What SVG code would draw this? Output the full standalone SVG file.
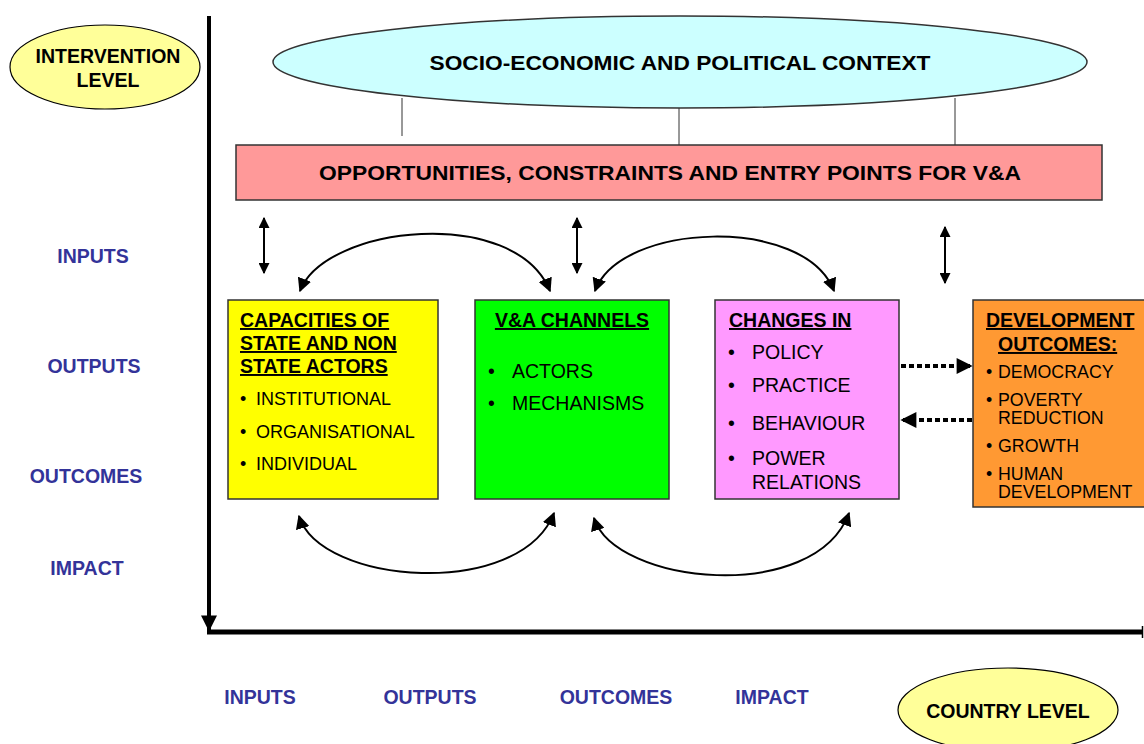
<svg xmlns="http://www.w3.org/2000/svg" width="1144" height="744" viewBox="0 0 1144 744">
<style>
text{font-family:"Liberation Sans",Arial,sans-serif;fill:#000}
.b{font-weight:bold}
.u{text-decoration:underline}
.lab{font-weight:bold;fill:#333399;font-size:19.5px;text-anchor:middle}
.box{stroke:#333;stroke-width:1.5}
.h{font-size:19.5px;font-weight:bold;text-decoration:underline}
.t{font-size:19.5px}
.y{font-size:18px}
.o{font-size:17.8px}
.c{fill:none;stroke:#000;stroke-width:2}
</style>
<defs>
<marker id="ah2" viewBox="0 0 10 10" refX="9" refY="5" markerWidth="5.5" markerHeight="5.5" orient="auto-start-reverse" markerUnits="strokeWidth">
<path d="M0,0 L10,5 L0,10 z" fill="#000"/>
</marker>
<marker id="ah4" viewBox="0 0 10 10" refX="9" refY="5" markerWidth="7" markerHeight="7" orient="auto-start-reverse" markerUnits="strokeWidth">
<path d="M0,0 L10,5 L0,10 z" fill="#000"/>
</marker>
<marker id="ah3" viewBox="0 0 10 10" refX="9" refY="5" markerWidth="5" markerHeight="4" orient="auto-start-reverse" markerUnits="strokeWidth">
<path d="M0,0 L10,5 L0,10 z" fill="#000"/>
</marker>
</defs>

<g id="axes">
<line x1="209" y1="16" x2="209" y2="630" stroke="#000" stroke-width="4" marker-end="url(#ah3)"/>
<line x1="207" y1="632" x2="1142" y2="632" stroke="#000" stroke-width="5"/>
<line x1="1142.5" y1="626" x2="1142.5" y2="638" stroke="#000" stroke-width="1.5"/>
</g>

<g id="intervention-level">
<ellipse cx="105" cy="67" rx="95" ry="42" fill="#ffff99" stroke="#000" stroke-width="1.2"/>
<text x="108" y="63" class="b" font-size="19.5" text-anchor="middle">INTERVENTION</text>
<text x="108" y="87" class="b" font-size="19.5" text-anchor="middle">LEVEL</text>
</g>

<g id="context">
<ellipse cx="680" cy="62" rx="407" ry="46" fill="#ccffff" stroke="#333" stroke-width="1.5"/>
<text x="680" y="70" class="b" font-size="21" text-anchor="middle" textLength="501" lengthAdjust="spacingAndGlyphs">SOCIO-ECONOMIC AND POLITICAL CONTEXT</text>
</g>

<g id="opportunities">
<rect x="236" y="145" width="866" height="55" fill="#ff9999" stroke="#333" stroke-width="1.5"/>
<text x="670" y="180" class="b" font-size="21" text-anchor="middle" textLength="702" lengthAdjust="spacingAndGlyphs">OPPORTUNITIES, CONSTRAINTS AND ENTRY POINTS FOR V&amp;A</text>
</g>

<g id="connectors">
<line x1="402" y1="98" x2="402" y2="136" stroke="#333" stroke-width="1"/>
<line x1="679" y1="108" x2="679" y2="145" stroke="#333" stroke-width="1"/>
<line x1="955" y1="98" x2="955" y2="145" stroke="#333" stroke-width="1"/>

<line x1="264" y1="218" x2="264" y2="273" stroke="#000" stroke-width="2" marker-start="url(#ah2)" marker-end="url(#ah2)"/>
<line x1="577" y1="218" x2="577" y2="273" stroke="#000" stroke-width="2" marker-start="url(#ah2)" marker-end="url(#ah2)"/>
<line x1="945" y1="227" x2="945" y2="283" stroke="#000" stroke-width="2" marker-start="url(#ah2)" marker-end="url(#ah2)"/>

<path class="c" d="M300,291 C325,225 515,205 550,291" marker-start="url(#ah4)" marker-end="url(#ah4)"/>
<path class="c" d="M595,291 C620,222 805,215 834,291" marker-start="url(#ah4)" marker-end="url(#ah4)"/>
<path class="c" d="M299,516 C320,585 520,600 554,513" marker-start="url(#ah4)" marker-end="url(#ah4)"/>
<path class="c" d="M594,518 C615,585 815,605 849,513" marker-start="url(#ah4)" marker-end="url(#ah4)"/>

<line x1="901" y1="366" x2="971" y2="366" stroke="#000" stroke-width="4" stroke-dasharray="5,3" marker-end="url(#ah3)"/>
<line x1="972" y1="420" x2="902" y2="420" stroke="#000" stroke-width="4" stroke-dasharray="5,3" marker-end="url(#ah3)"/>
</g>

<g id="capacities">
<rect x="228" y="300" width="210" height="199" fill="#ffff00" class="box"/>
<text x="240" y="327" class="h">CAPACITIES OF</text>
<text x="240" y="350" class="h">STATE AND NON</text>
<text x="240" y="373" class="h">STATE ACTORS</text>
<text x="240" y="405" class="y">•</text><text x="256" y="405" class="y">INSTITUTIONAL</text>
<text x="240" y="438" class="y">•</text><text x="256" y="438" class="y">ORGANISATIONAL</text>
<text x="240" y="470" class="y">•</text><text x="256" y="470" class="y">INDIVIDUAL</text>
</g>

<g id="channels">
<rect x="475" y="300" width="194" height="199" fill="#00ff00" class="box"/>
<text x="572" y="327" class="h" text-anchor="middle">V&amp;A CHANNELS</text>
<text x="488" y="378" class="t">•</text><text x="512" y="378" class="t">ACTORS</text>
<text x="488" y="410" class="t">•</text><text x="512" y="410" class="t">MECHANISMS</text>
</g>

<g id="changes">
<rect x="715" y="300" width="184" height="199" fill="#ff99ff" class="box"/>
<text x="729" y="327" class="h">CHANGES IN</text>
<text x="728" y="359" class="t">•</text><text x="752" y="359" class="t">POLICY</text>
<text x="728" y="392" class="t">•</text><text x="752" y="392" class="t">PRACTICE</text>
<text x="728" y="430" class="t">•</text><text x="752" y="430" class="t">BEHAVIOUR</text>
<text x="728" y="465" class="t">•</text><text x="752" y="465" class="t">POWER</text>
<text x="752" y="489" class="t">RELATIONS</text>
</g>

<g id="outcomes">
<rect x="973" y="300" width="175" height="207" fill="#ff9933" class="box"/>
<text x="986" y="327" class="h">DEVELOPMENT</text>
<text x="998" y="351" class="h">OUTCOMES:</text>
<text x="986" y="378" class="o">•</text><text x="998" y="378" class="o">DEMOCRACY</text>
<text x="986" y="406" class="o">•</text><text x="998" y="406" class="o">POVERTY</text>
<text x="998" y="424" class="o">REDUCTION</text>
<text x="986" y="452" class="o">•</text><text x="998" y="452" class="o">GROWTH</text>
<text x="986" y="480" class="o">•</text><text x="998" y="480" class="o">HUMAN</text>
<text x="998" y="498" class="o">DEVELOPMENT</text>
</g>

<g id="left-labels">
<text x="93" y="263" class="lab">INPUTS</text>
<text x="94" y="373" class="lab">OUTPUTS</text>
<text x="86" y="483" class="lab">OUTCOMES</text>
<text x="87" y="575" class="lab">IMPACT</text>
</g>

<g id="bottom-labels">
<text x="260" y="704" class="lab">INPUTS</text>
<text x="430" y="704" class="lab">OUTPUTS</text>
<text x="616" y="704" class="lab">OUTCOMES</text>
<text x="772" y="704" class="lab">IMPACT</text>
</g>

<g id="country-level">
<ellipse cx="1008" cy="710" rx="110" ry="42" fill="#ffff99" stroke="#000" stroke-width="1.2"/>
<text x="1008" y="718" class="b" font-size="19.5" text-anchor="middle">COUNTRY LEVEL</text>
</g>
</svg>
